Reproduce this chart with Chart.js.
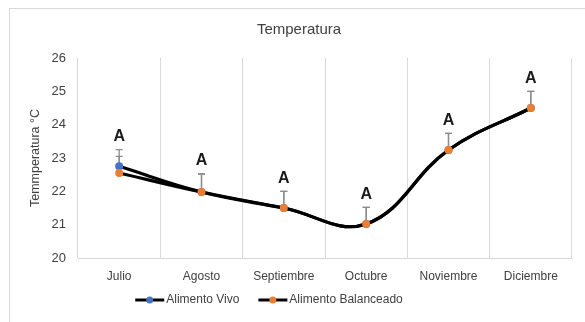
<!DOCTYPE html>
<html>
<head>
<meta charset="utf-8">
<script src="https://cdn.jsdelivr.net/npm/chart.js@4.4.1/dist/chart.umd.min.js"></script>
<style>
    html, body { margin: 0; padding: 0; background: #fff; overflow: hidden; }
    #frame { position: absolute; left: 9px; top: 8px; width: 620px; height: 340px; border: 1px solid #d9d9d9; }
    #wrap { position: absolute; left: 0; top: 0; width: 585px; height: 322px; }
</style>
</head>
<body>
<div id="frame"></div>
<div id="wrap"><canvas id="temperatura" width="585" height="322"></canvas></div>
<script>
"use strict";

const months = ['Julio', 'Agosto', 'Septiembre', 'Octubre', 'Noviembre', 'Diciembre'];
const vivo = [22.75, 21.98, 21.5, 21.02, 23.24, 24.5];
const balanceado = [22.55, 21.98, 21.5, 21.02, 23.24, 24.5];
const vivoErr = [0.5, 0.54, 0.5, 0.5, 0.5, 0.5];
const balanceadoErr = [0.5, 0.54, 0.5, 0.5, 0.5, 0.5];
const letters = ['A', 'A', 'A', 'A', 'A', 'A'];
const yTicks = [20, 21, 22, 23, 24, 25, 26];

const FONT = "'Liberation Sans', Arial, sans-serif";
const TEXT = '#404040';
const BLUE = '#4472c4';
const ORANGE = '#ed7d31';

// upward error bars with caps, drawn under the markers
const errorBars = {
    id: 'errorBars',
    beforeDatasetsDraw(chart) {
        const ctx = chart.ctx;
        const y = chart.scales.y;
        ctx.save();
        ctx.strokeStyle = '#8c8c8c';
        ctx.lineWidth = 1.3;
        chart.data.datasets.forEach((ds, i) => {
            const meta = chart.getDatasetMeta(i);
            meta.data.forEach((pt, j) => {
                const top = y.getPixelForValue(ds.data[j] + ds.err[j]);
                ctx.beginPath();
                ctx.moveTo(pt.x, pt.y);
                ctx.lineTo(pt.x, top);
                ctx.moveTo(pt.x - 3.5, top);
                ctx.lineTo(pt.x + 3.5, top);
                ctx.stroke();
            });
        });
        ctx.restore();
    },
    afterDatasetsDraw(chart) {
        // significance letters above the highest bar of each month
        const ctx = chart.ctx;
        const y = chart.scales.y;
        const x = chart.scales.x;
        ctx.save();
        ctx.font = 'bold 16px ' + FONT;
        ctx.fillStyle = '#1a1a1a';
        ctx.textAlign = 'center';
        ctx.textBaseline = 'middle';
        letters.forEach((l, j) => {
            const top = Math.max(vivo[j] + vivoErr[j], balanceado[j] + balanceadoErr[j]);
            ctx.fillText(l, x.getPixelForValue(j), y.getPixelForValue(top) - 13);
        });
        ctx.restore();
    }
};

// legend with a line and marker for each series
const lineLegend = {
    id: 'lineLegend',
    afterDraw(chart) {
        const ctx = chart.ctx;
        const cy = 300;
        const sample = 29;
        ctx.save();
        ctx.font = '12px ' + FONT;
        const items = chart.data.datasets.slice().sort((a, b) => a.legendIndex - b.legendIndex);
        const widths = items.map(ds => sample + 2 + ctx.measureText(ds.label).width);
        const total = widths.reduce((a, b) => a + b, 0) + 19 * (items.length - 1);
        let left = 269 - total / 2;
        items.forEach((ds, i) => {
            ctx.strokeStyle = '#000';
            ctx.lineWidth = 3;
            ctx.beginPath();
            ctx.moveTo(left, cy);
            ctx.lineTo(left + sample, cy);
            ctx.stroke();
            ctx.fillStyle = ds.pointBackgroundColor;
            ctx.beginPath();
            ctx.arc(left + sample / 2, cy, 3.5, 0, Math.PI * 2);
            ctx.fill();
            ctx.fillStyle = TEXT;
            ctx.textAlign = 'left';
            ctx.textBaseline = 'middle';
            ctx.fillText(ds.label, left + sample + 2, cy);
            left += widths[i] + 19;
        });
        ctx.restore();
    }
};

function makeSeries(label, data, err, color, order, legendIndex) {
    return {
        label: label,
        data: data,
        err: err,
        order: order,
        legendIndex: legendIndex,
        borderColor: '#000',
        borderWidth: 3.2,
        tension: 0.4,
        fill: false,
        pointRadius: 4,
        pointBorderWidth: 0,
        pointBackgroundColor: color,
        pointBorderColor: color
    };
}

new Chart(document.getElementById('temperatura'), {
    type: 'line',
    data: {
        labels: months,
        datasets: [
            makeSeries('Alimento Vivo', vivo, vivoErr, BLUE, 2, 0),
            makeSeries('Alimento Balanceado', balanceado, balanceadoErr, ORANGE, 1, 1)
        ]
    },
    options: {
        responsive: false,
        animation: false,
        layout: { padding: { left: 26, right: 13, top: 0, bottom: 0 } },
        plugins: {
            legend: { display: false },
            tooltip: { enabled: false },
            title: {
                display: true,
                text: 'Temperatura',
                color: TEXT,
                font: { family: FONT, size: 15, weight: 'normal', lineHeight: 1.2 },
                padding: { top: 21, bottom: 19 }
            }
        },
        scales: {
            x: {
                offset: true,
                grid: { offset: true, color: '#d9d9d9', drawTicks: false },
                border: { color: '#d9d9d9' },
                ticks: { color: TEXT, padding: 11, maxRotation: 0, font: { family: FONT, size: 12 } },
                afterFit: s => { s.height = 64; }
            },
            y: {
                min: yTicks[0],
                max: yTicks[yTicks.length - 1],
                afterBuildTicks: s => { s.ticks = yTicks.map(v => ({ value: v })); },
                grid: { display: false, drawTicks: false },
                border: { display: false },
                ticks: { color: TEXT, padding: 12, font: { family: FONT, size: 13 } },
                title: {
                    display: true,
                    text: 'Temmperatura °C',
                    color: TEXT,
                    font: { family: FONT, size: 12.5, lineHeight: 1.2 },
                    padding: { top: 2, bottom: 0 }
                },
                afterFit: s => { s.width = 52; }
            }
        }
    },
    plugins: [errorBars, lineLegend]
});
</script>
</body>
</html>
